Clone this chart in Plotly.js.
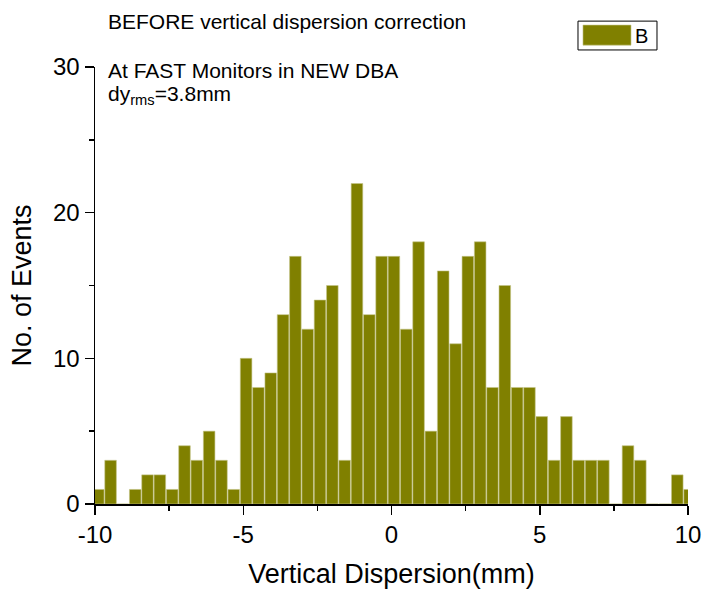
<!DOCTYPE html>
<html>
<head>
<meta charset="utf-8">
<script src="https://cdn.plot.ly/plotly-3.0.1.min.js"></script>
<style>
  html, body { margin: 0; padding: 0; background: #ffffff; }
  #chart { width: 705px; height: 590px; }
</style>
</head>
<body>
<div id="chart"></div>
<script>
// Histogram of vertical dispersion at the FAST monitors (before correction)
const binStart = -9.89;   // centre of the first bin (mm)
const binWidth = 0.4155;  // bin width (mm)
const counts = [1, 3, 0, 1, 2, 2, 1, 4, 3, 5,
                3, 1, 10, 8, 9, 13, 17, 12, 14, 15,
                3, 22, 13, 17, 17, 12, 18, 5, 16, 11,
                17, 18, 8, 15, 8, 8, 6, 3, 6, 3,
                3, 3, 0, 4, 3, 0, 0, 2, 1];
const seriesName = 'B';
const xTicks = [-10, -5, 0, 5, 10];
const yTicks = [0, 10, 20, 30];

const FONT = 'Arial, "Liberation Sans", sans-serif';
const OLIVE = '#808000';

const trace = {
  type: 'bar',
  name: seriesName,
  x0: binStart,
  dx: binWidth,
  y: counts,
  marker: { color: OLIVE, line: { color: '#c4c48a', width: 0.6 } },
  showlegend: false,
  hoverinfo: 'x+y'
};

const axisCommon = {
  showgrid: false,
  zeroline: false,
  showline: true,
  linecolor: '#000000',
  linewidth: 1.5,
  ticks: 'outside',
  ticklen: 9,
  tickwidth: 1.5,
  tickcolor: '#000000',
  tickfont: { family: FONT, size: 24, color: '#000000' },
  automargin: false
};

const layout = {
  width: 705,
  height: 590,
  paper_bgcolor: '#ffffff',
  plot_bgcolor: '#ffffff',
  margin: { l: 95, r: 17, t: 67, b: 86 },
  bargap: 0.06,
  xaxis: Object.assign({}, axisCommon, {
    range: [-10, 10],
    tickvals: xTicks,
    ticktext: xTicks.map(String),
    minor: { dtick: 2.5, tick0: 0, ticks: 'outside', ticklen: 5, tickwidth: 1.5, tickcolor: '#000000' },
    title: { text: 'Vertical Dispersion(mm)', font: { family: FONT, size: 27, color: '#000000' }, standoff: 17 }
  }),
  yaxis: Object.assign({}, axisCommon, {
    range: [0, 30],
    tickvals: yTicks,
    ticktext: yTicks.map(String),
    minor: { dtick: 5, tick0: 0, ticks: 'outside', ticklen: 5, tickwidth: 1.5, tickcolor: '#000000' },
    title: { text: 'No. of Events', font: { family: FONT, size: 27, color: '#000000' }, standoff: 13 }
  }),
  shapes: [
    // legend frame and swatch
    { type: 'rect', xref: 'paper', yref: 'paper', x0: 0.8145, x1: 0.9477, y0: 1.039, y1: 1.105,
      line: { color: '#000000', width: 1 }, fillcolor: '#ffffff' },
    { type: 'rect', xref: 'paper', yref: 'paper', x0: 0.8229, x1: 0.9039, y0: 1.050, y1: 1.096,
      line: { color: '#c4c48a', width: 0.6 }, fillcolor: OLIVE }
  ],
  annotations: [
    { xref: 'paper', yref: 'paper', x: 0.908, y: 1.072, xanchor: 'left', yanchor: 'middle',
      text: seriesName, showarrow: false, font: { family: FONT, size: 20, color: '#000000' } },
    { xref: 'paper', yref: 'paper', x: 0.0185, y: 1.105, xanchor: 'left', yanchor: 'middle',
      text: 'BEFORE vertical dispersion correction', showarrow: false,
      font: { family: FONT, size: 21, color: '#000000' } },
    { xref: 'paper', yref: 'paper', x: 0.0185, y: 0.993, xanchor: 'left', yanchor: 'middle',
      text: 'At FAST Monitors in NEW DBA', showarrow: false,
      font: { family: FONT, size: 21, color: '#000000' } },
    { xref: 'paper', yref: 'paper', x: 0.0185, y: 0.937, xanchor: 'left', yanchor: 'middle',
      text: 'dy<sub>rms</sub>=3.8mm', showarrow: false,
      font: { family: FONT, size: 21, color: '#000000' } }
  ]
};

Plotly.newPlot('chart', [trace], layout, { displayModeBar: false, staticPlot: true });
</script>
</body>
</html>
